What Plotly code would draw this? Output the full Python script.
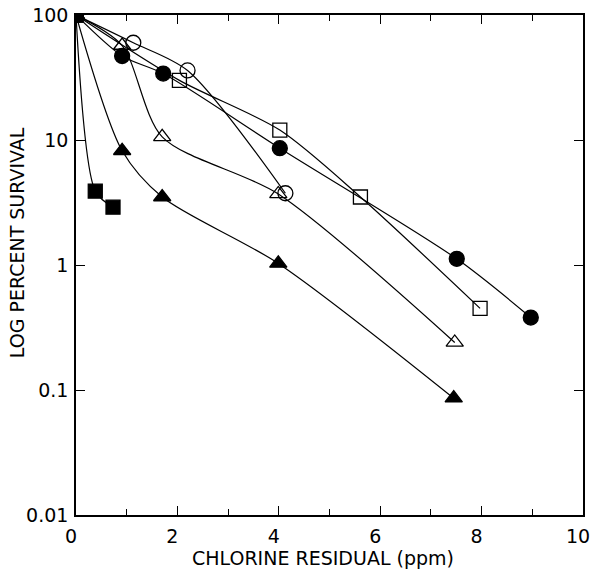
import plotly.graph_objects as go

# data
sq_filled_x = [0, 0.38, 0.73]
sq_filled_y = [100, 3.9, 2.9]

tri_filled_x = [0, 0.91, 1.70, 3.99, 7.45]
tri_filled_y = [100, 8.2, 3.5, 1.03, 0.086]

tri_open_x = [0, 0.91, 1.70, 3.99, 7.47]
tri_open_y = [100, 57, 10.6, 3.7, 0.24]

circ_open_x = [0, 1.13, 2.20, 4.13]
circ_open_y = [100, 60, 36, 3.75]

circ_filled_x = [0, 0.91, 1.72, 4.02, 7.51, 8.97]
circ_filled_y = [100, 47, 34, 8.6, 1.12, 0.38]

sq_open_x = [0, 2.04, 4.02, 5.61, 7.97]
sq_open_y = [100, 30, 12, 3.5, 0.45]

x_ticks = [0, 2, 4, 6, 8, 10]
y_ticks = [0.01, 0.1, 1, 10, 100]
y_tick_labels = ["0.01", "0.1", "1", "10", "100"]

fig = go.Figure()

def add(x, y, symbol, size):
    fig.add_trace(go.Scatter(
        x=x, y=y, mode="lines+markers",
        line=dict(color="black", width=1.2, shape="spline", smoothing=0.8),
        marker=dict(symbol=symbol, size=size, color="black",
                    line=dict(color="black", width=1.3)),
        showlegend=False,
    ))

add(sq_open_x, sq_open_y, "square-open", 14)
add(circ_filled_x, circ_filled_y, "circle", 15)
add(circ_open_x, circ_open_y, "circle-open", 15)
add(tri_open_x, tri_open_y, "triangle-up-open", 15)
add(tri_filled_x, tri_filled_y, "triangle-up", 15)
add(sq_filled_x, sq_filled_y, "square", 14)

font_family = "DejaVu Sans, Verdana, sans-serif"

fig.update_layout(
    width=594, height=570,
    margin=dict(l=76, r=11, t=15, b=55),
    paper_bgcolor="white", plot_bgcolor="white",
    font=dict(family=font_family, color="black"),
    xaxis=dict(
        range=[0, 10], tickvals=x_ticks, ticktext=[str(v) for v in x_ticks],
        showgrid=False, zeroline=False, showline=True, linecolor="black", linewidth=1.6,
        mirror="ticks", ticks="inside", ticklen=9, tickcolor="black", tickwidth=1.2,
        tickfont=dict(size=19), ticklabelstandoff=3, ticklabelshift=-5, automargin=False,
        ticklabeloverflow="allow",
        minor=dict(dtick=1, ticks="inside", ticklen=6, tickcolor="black", tickwidth=1.2, showgrid=False),
    ),
    yaxis=dict(
        type="log", range=[-2, 2], tickvals=y_ticks, ticktext=y_tick_labels,
        showgrid=False, zeroline=False, showline=True, linecolor="black", linewidth=1.6,
        mirror="ticks", ticks="inside", ticklen=9, tickcolor="black", tickwidth=1.2,
        tickfont=dict(size=19), ticklabelstandoff=2, automargin=False,
        ticklabeloverflow="allow",
    ),
    annotations=[
        dict(text="CHLORINE RESIDUAL (ppm)", xref="paper", yref="paper",
             x=0.487, y=-0.086, xanchor="center", yanchor="middle",
             showarrow=False, font=dict(size=19)),
        dict(text="LOG PERCENT SURVIVAL", xref="paper", yref="paper",
             x=-0.116, y=0.544, xanchor="center", yanchor="middle", textangle=-90,
             showarrow=False, font=dict(size=19)),
    ],
)

fig.write_html("out.html", config={"displayModeBar": False},
               post_script="document.body.style.margin='0';")
